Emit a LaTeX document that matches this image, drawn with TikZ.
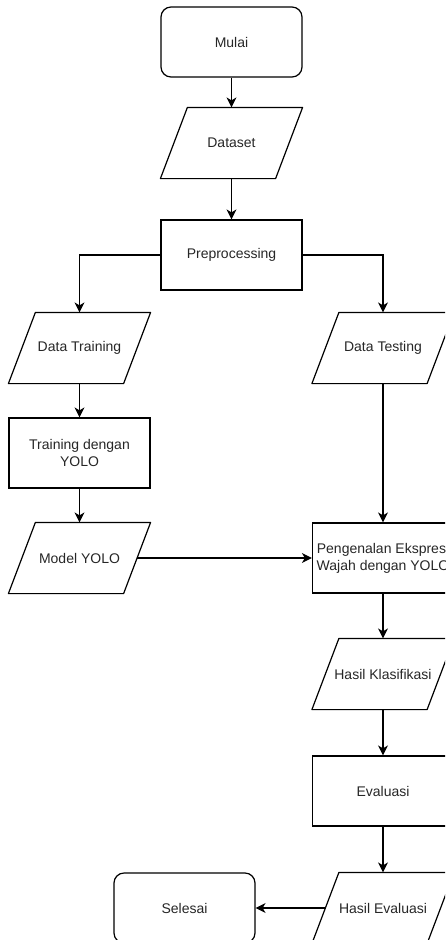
\documentclass[tikz,border=0pt]{standalone}
\usepackage{fontspec}
\setmainfont{Liberation Sans}
\usetikzlibrary{arrows.meta}
\begin{document}
\begin{tikzpicture}[x=1pt,y=-1pt,line width=1.2pt,
  base/.style={minimum width=141pt, minimum height=70pt, inner sep=2pt, align=center,
    font=\fontsize{14pt}{16.8pt}\selectfont, text=black!85},
  term/.style={base, draw, rounded corners=10pt},
  proc/.style={base, draw},
  io/.style={base},
  flow/.style={-{Stealth[length=10pt,width=10pt,inset=3pt]}}]
\useasboundingbox (0,0) rectangle (445,940);
\clip (0,0) rectangle (445,940);
\node[term] (mulai) at (231.5,42) {Mulai};
\node[io] (dataset) at (231.5,143) {Dataset};
\node[proc] (prep) at (231.5,255) {Preprocessing};
\node[io] (dtrain) at (79.5,348) {Data Training};
\node[io] (dtest) at (383,348) {Data Testing};
\node[proc] (train) at (79.5,453) {Training dengan\\YOLO};
\node[io] (model) at (79.5,558) {Model YOLO};
\node[proc] (kenal) at (383,558) {Pengenalan Ekspresi\\Wajah dengan YOLO};
\node[io] (klas) at (383,674) {Hasil Klasifikasi};
\node[proc] (eval) at (383,791) {Evaluasi};
\node[io] (heval) at (383,908) {Hasil Evaluasi};
\node[term] (selesai) at (184.5,908) {Selesai};
\foreach \n in {dataset,dtrain,dtest,model,klas,heval}
  \draw[line join=round] ([xshift=27pt]\n.north west) -- (\n.north east)
    -- ([xshift=-27pt]\n.south east) -- (\n.south west) -- cycle;
\draw[flow] (mulai) -- (dataset);
\draw[flow] (dataset) -- (prep);
\draw[flow] (prep.west) -| (dtrain.north);
\draw[flow] (prep.east) -| (dtest.north);
\draw[flow] (dtrain) -- (train);
\draw[flow] (train) -- (model);
\draw[flow] ([xshift=-13.5pt]model.east) -- (kenal.west);
\draw[flow] (dtest) -- (kenal);
\draw[flow] (kenal) -- (klas);
\draw[flow] (klas) -- (eval);
\draw[flow] (eval) -- (heval);
\draw[flow] ([xshift=13.5pt]heval.west) -- (selesai.east);
\end{tikzpicture}
\end{document}
